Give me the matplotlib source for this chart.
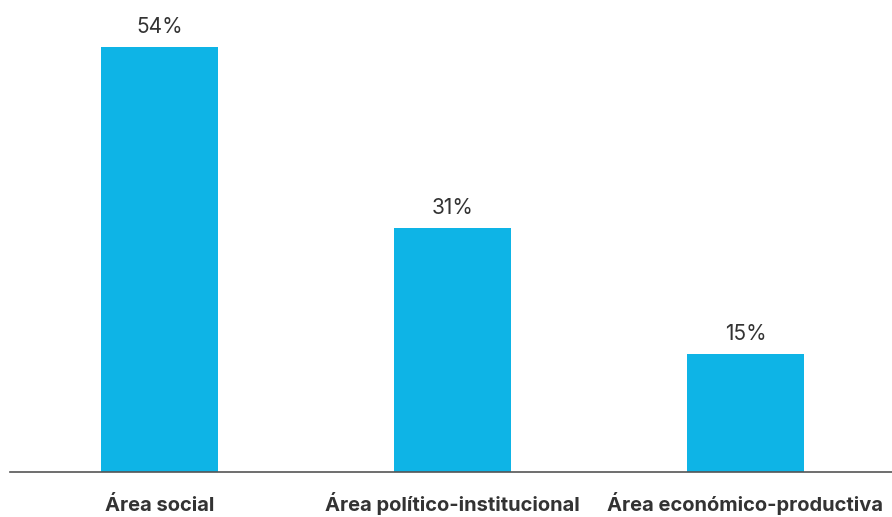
import matplotlib
matplotlib.use('Agg')
import matplotlib.pyplot as plt

categories = ['Área social', 'Área político-institucional', 'Área económico-productiva']
values = [54, 31, 15]
labels = ['54%', '31%', '15%']

plt.rcParams['font.family'] = ['Inter', 'DejaVu Sans']

fig = plt.figure(figsize=(8.92, 5.17), dpi=100)
ax = fig.add_axes([10/892, 45/517, 882/892, 472/517])

x = range(len(categories))
ax.bar(x, values, width=0.4, color='#0EB4E6')
for i, v in enumerate(values):
    ax.annotate(labels[i], (i, v), xytext=(0, 10), textcoords='offset points',
                ha='center', va='baseline', fontsize=15, color='#333333')
    # category labels drawn as text so they share one baseline
    ax.annotate(categories[i], (i, 0), xytext=(0, -28), textcoords='offset points',
                ha='center', va='baseline', fontsize=14.5, fontweight='bold',
                color='#333333', annotation_clip=False)

ax.set_xlim(-0.51, 2.5)
ax.set_ylim(0, 60)
ax.set_xticks([])
ax.set_yticks([])
for s in ['top', 'right', 'left']:
    ax.spines[s].set_visible(False)
ax.spines['bottom'].set_color('#555555')
ax.spines['bottom'].set_linewidth(1.2)

fig.savefig('out.png', dpi=100)
